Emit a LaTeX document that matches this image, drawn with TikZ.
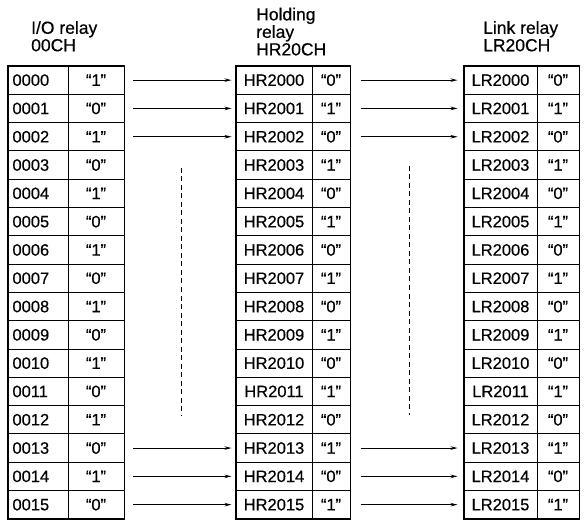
\documentclass[tikz,border=0pt]{standalone}
\usepackage{fontspec}
\setmainfont{Liberation Sans}
\newfontfamily\relayfont{Liberation Sans}[FakeBold=0.5]
\usetikzlibrary{arrows.meta}
\begin{document}
\begin{tikzpicture}[x=1pt,y=-1pt,
  cellbox/.style={draw, line width=0.9pt, minimum height=28.3pt, inner sep=0pt, font=\relayfont\fontsize{16.5}{16.5}\selectfont},
  outerbox/.style={draw, line width=1.8pt},
  link/.style={line width=1.1pt, -{Stealth[length=7pt,width=3.5pt]}},
  gap/.style={line width=1.2pt, dash pattern=on 5pt off 3.5pt},
  title/.style={anchor=north west, inner sep=0pt, align=left, font=\relayfont\fontsize{17.5}{17.5}\selectfont}]
\useasboundingbox (0,0) rectangle (586,529);
\foreach \i in {0,...,15}{
  \pgfmathsetmacro\yy{66+28.3*\i+14.15}
  \ifnum\i<10 \def\nn{0\i}\else \def\nn{\i}\fi
  \ifodd\i \def\va{“0”}\def\vb{“1”}\else \def\va{“1”}\def\vb{“0”}\fi
  \node[cellbox, minimum width=60pt, text width=51pt, inner xsep=4.5pt, align=left] (Ln\i) at (38,\yy) {00\nn};
  \node[cellbox, minimum width=56pt] (Lv\i) at (96,\yy) {\va};
  \node[cellbox, minimum width=76pt] (Mn\i) at (274,\yy) {HR20\nn};
  \node[cellbox, minimum width=38pt] (Mv\i) at (331,\yy) {\vb};
  \node[cellbox, minimum width=73pt] (Rn\i) at (500.5,\yy) {LR20\nn};
  \node[cellbox, minimum width=42pt] (Rv\i) at (558,\yy) {\vb};
}
\draw[outerbox] (Ln0.north west) rectangle (Lv15.south east);
\draw[outerbox] (Mn0.north west) rectangle (Mv15.south east);
\draw[outerbox] (Rn0.north west) rectangle (Rv15.south east);
\foreach \i in {0,1,2,13,14,15}{
  \draw[link, shorten <=9pt, shorten >=4pt] (Lv\i) -- (Mn\i);
  \draw[link, shorten <=11pt, shorten >=6pt] (Mv\i) -- (Rn\i);
}
\coordinate (g1t) at (181.5,168);
\coordinate (g1b) at (181.5,415);
\coordinate (g2t) at (409.5,166);
\coordinate (g2b) at (409.5,415);
\draw[gap] (g1t) -- (g1b);
\draw[gap] (g2t) -- (g2b);
\node[title] (t1) at (31,20.9) {I/O relay\\00CH};
\node[title] (t2) at (256,7.5) {Holding\\relay\\HR20CH};
\node[title] (t3) at (483,20.9) {Link relay\\LR20CH};
\end{tikzpicture}
\end{document}
